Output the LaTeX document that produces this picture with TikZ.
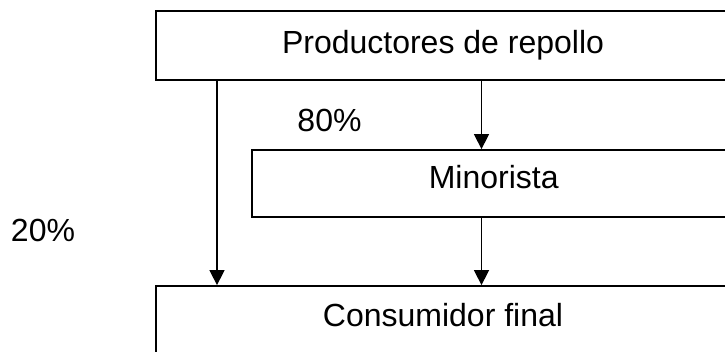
\documentclass[tikz,border=0pt]{standalone}
\usepackage{fontspec}
\setmainfont{Liberation Sans}
\usetikzlibrary{arrows.meta}
\begin{document}
\begin{tikzpicture}[x=1pt,y=-1pt,
  box/.style={draw,line width=1.8pt,rectangle,inner sep=0pt,minimum width=#1},
  lbl/.style={anchor=base,inner sep=0pt,font=\fontsize{32}{38}\selectfont},
  arr/.style={line width=1.5pt,-{Triangle[length=15pt,width=15pt]}}]
\useasboundingbox (0,0) rectangle (725,351);
\clip (0,0) rectangle (725,351);
% boxes
\node[box=574pt,minimum height=69pt] (prod) at (443,45.5) {};
\node[box=483pt,minimum height=67pt] (mino) at (493.5,183.5) {};
\node[box=574pt,minimum height=69pt] (cons) at (443,320.5) {};
% texts
\node[lbl] (tprod) at (443,53.3) {Productores de repollo};
\node[lbl] (tmino) at (493.7,188.3) {Minorista};
\node[lbl] (tcons) at (443,326.7) {Consumidor final};
\node[lbl] (p80) at (329.5,131) {80\%};
\node[lbl] (p20) at (43,241.7) {20\%};
% arrows
\coordinate (la) at (217,0);
\coordinate (ma) at (481.5,0);
\draw[arr] (prod.south -| la) -- (cons.north -| la);
\draw[arr] (prod.south -| ma) -- (mino.north -| ma);
\draw[arr] (mino.south -| ma) -- (cons.north -| ma);
\end{tikzpicture}
\end{document}
